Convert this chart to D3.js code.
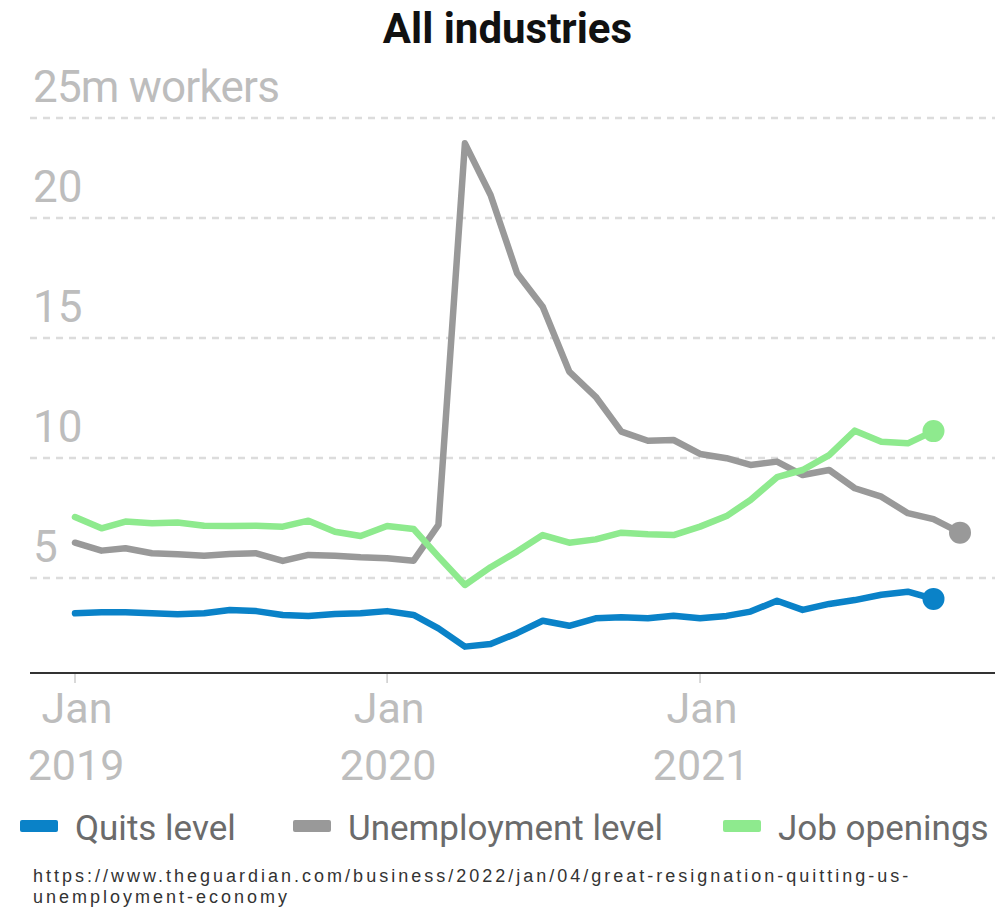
<!DOCTYPE html>
<html>
<head>
<meta charset="utf-8">
<script src="https://cdn.jsdelivr.net/npm/d3@7"></script>
<style>
  body { margin: 0; background: #fff; }
  svg { display: block; }
</style>
</head>
<body>
<svg id="chart"></svg>
<script>
// data (millions of workers), monthly from Jan 2019
const months = d3.utcMonths(new Date(Date.UTC(2019, 0, 1)), new Date(Date.UTC(2021, 11, 1)));
const quits = [3.53, 3.57, 3.57, 3.53, 3.49, 3.53, 3.67, 3.62, 3.46, 3.42, 3.50, 3.53,
               3.62, 3.46, 2.90, 2.14, 2.25, 2.70, 3.22, 3.01, 3.32, 3.36, 3.32, 3.43,
               3.32, 3.42, 3.60, 4.05, 3.67, 3.92, 4.08, 4.30, 4.43, 4.13];
const unemployment = [6.47, 6.14, 6.24, 6.03, 5.99, 5.93, 6.00, 6.03, 5.71, 5.96, 5.93, 5.86,
                      5.82, 5.72, 7.21, 23.11, 20.96, 17.70, 16.30, 13.60, 12.55, 11.10, 10.72, 10.75,
                      10.17, 9.99, 9.71, 9.85, 9.29, 9.50, 8.74, 8.39, 7.70, 7.45, 6.89];
const jobOpenings = [7.54, 7.07, 7.35, 7.28, 7.31, 7.18, 7.17, 7.18, 7.14, 7.39, 6.93, 6.75,
                     7.17, 7.04, 5.89, 4.71, 5.45, 6.10, 6.79, 6.47, 6.61, 6.89, 6.82, 6.79,
                     7.14, 7.58, 8.25, 9.20, 9.50, 10.12, 11.14, 10.68, 10.61, 11.12];
const seriesNames = ["Quits level", "Unemployment level", "Job openings"];
const yTicks = [5, 10, 15, 20, 25];
const xTickDates = [new Date(Date.UTC(2019, 0, 1)), new Date(Date.UTC(2020, 0, 1)), new Date(Date.UTC(2021, 0, 1))];
const sourceLines = ["https://www.theguardian.com/business/2022/jan/04/great-resignation-quitting-us-",
                     "unemployment-economy"];

const width = 1005;
const height = 912;
const colors = {"Quits level": "#0a82c8", "Unemployment level": "#999999", "Job openings": "#8eea8e"};

const svg = d3.select("#chart")
                .attr("width", width)
                .attr("height", height);

const plotLeft = 30, plotRight = 995, plotTop = 118, plotBottom = 673;

const x = d3.scaleUtc()
            .domain([months[0], months[months.length - 1]])
            .range([75, 960]);

const y = d3.scaleLinear()
            .domain([0, 25])
            .range([698, 98]);

// title
svg.append("text")
    .attr("x", width / 2 + 5)
    .attr("y", 43)
    .attr("text-anchor", "middle")
    .style("font-family", "Roboto, 'Noto Sans', sans-serif")
    .style("font-weight", "bold")
    .style("font-size", "42px")
    .style("fill", "#111")
    .text("All industries");

// gridlines + y labels
const grid = svg.append("g");
yTicks.forEach(function(v) {
    const gy = Math.max(y(v), plotTop);
    grid.append("line")
        .attr("x1", plotLeft).attr("x2", plotRight)
        .attr("y1", gy).attr("y2", gy)
        .style("stroke", "#dcdcdc")
        .style("stroke-width", 2.5)
        .style("stroke-dasharray", "7,6");
    grid.append("text")
        .attr("x", 33)
        .attr("y", gy - 16)
        .style("font-family", "Roboto, 'Noto Sans', sans-serif")
        .style("font-size", "44px")
        .style("letter-spacing", v === 25 ? "-0.8px" : "0px")
        .style("fill", "#bdbdbd")
        .text(v === 25 ? "25m workers" : v);
});

// x axis
svg.append("line")
    .attr("x1", plotLeft).attr("x2", plotRight)
    .attr("y1", plotBottom).attr("y2", plotBottom)
    .style("stroke", "#333")
    .style("stroke-width", 2);

const xAxis = svg.append("g");
xTickDates.forEach(function(d) {
    xAxis.append("line")
        .attr("x1", x(d)).attr("x2", x(d))
        .attr("y1", plotBottom + 1).attr("y2", plotBottom + 10)
        .style("stroke", "#ccc")
        .style("stroke-width", 1.5);
    xAxis.append("text")
        .attr("x", x(d) + 2)
        .attr("y", 723)
        .attr("text-anchor", "middle")
        .style("font-family", "Roboto, 'Noto Sans', sans-serif")
        .style("font-size", "43px")
        .style("fill", "#bdbdbd")
        .text("Jan");
    xAxis.append("text")
        .attr("x", x(d) + 1)
        .attr("y", 780)
        .attr("text-anchor", "middle")
        .style("font-family", "Roboto, 'Noto Sans', sans-serif")
        .style("font-size", "43px")
        .style("fill", "#bdbdbd")
        .text(d.getUTCFullYear());
});

// lines
const line = d3.line()
                .x(function(d) { return x(d.date); })
                .y(function(d) { return y(d.value); });

const series = [
    {name: "Quits level", values: quits},
    {name: "Unemployment level", values: unemployment},
    {name: "Job openings", values: jobOpenings}
].map(function(s) {
    return {name: s.name, points: s.values.map(function(v, i) { return {date: months[i], value: v}; })};
});

svg.selectAll("path.series")
    .data(series)
    .enter().append("path")
    .attr("class", "series")
    .attr("d", function(d) { return line(d.points); })
    .style("fill", "none")
    .style("stroke", function(d) { return colors[d.name]; })
    .style("stroke-width", 6.5)
    .style("stroke-linejoin", "round")
    .style("stroke-linecap", "round");

// end dots
svg.selectAll("circle.end")
    .data(series)
    .enter().append("circle")
    .attr("class", "end")
    .attr("cx", function(d) { return x(d.points[d.points.length - 1].date); })
    .attr("cy", function(d) { return y(d.points[d.points.length - 1].value); })
    .attr("r", 11)
    .style("fill", function(d) { return colors[d.name]; });

// legend
const legendX = [20, 293, 723];
const legend = svg.append("g");
seriesNames.forEach(function(name, i) {
    legend.append("rect")
        .attr("x", legendX[i])
        .attr("y", 820)
        .attr("width", 38)
        .attr("height", 12)
        .attr("rx", 2)
        .style("fill", colors[name]);
    legend.append("text")
        .attr("x", legendX[i] + 55)
        .attr("y", 840)
        .style("font-family", "Roboto, 'Noto Sans', sans-serif")
        .style("font-size", "35px")
        .style("fill", "#6b6b6b")
        .text(name);
});

// source
sourceLines.forEach(function(t, i) {
    svg.append("text")
        .attr("x", 33)
        .attr("y", 882 + i * 20.5)
        .style("font-family", "'Liberation Sans', sans-serif")
        .style("font-size", "18px")
        .style("letter-spacing", "3px")
        .style("fill", "#333")
        .text(t);
});
</script>
</body>
</html>
